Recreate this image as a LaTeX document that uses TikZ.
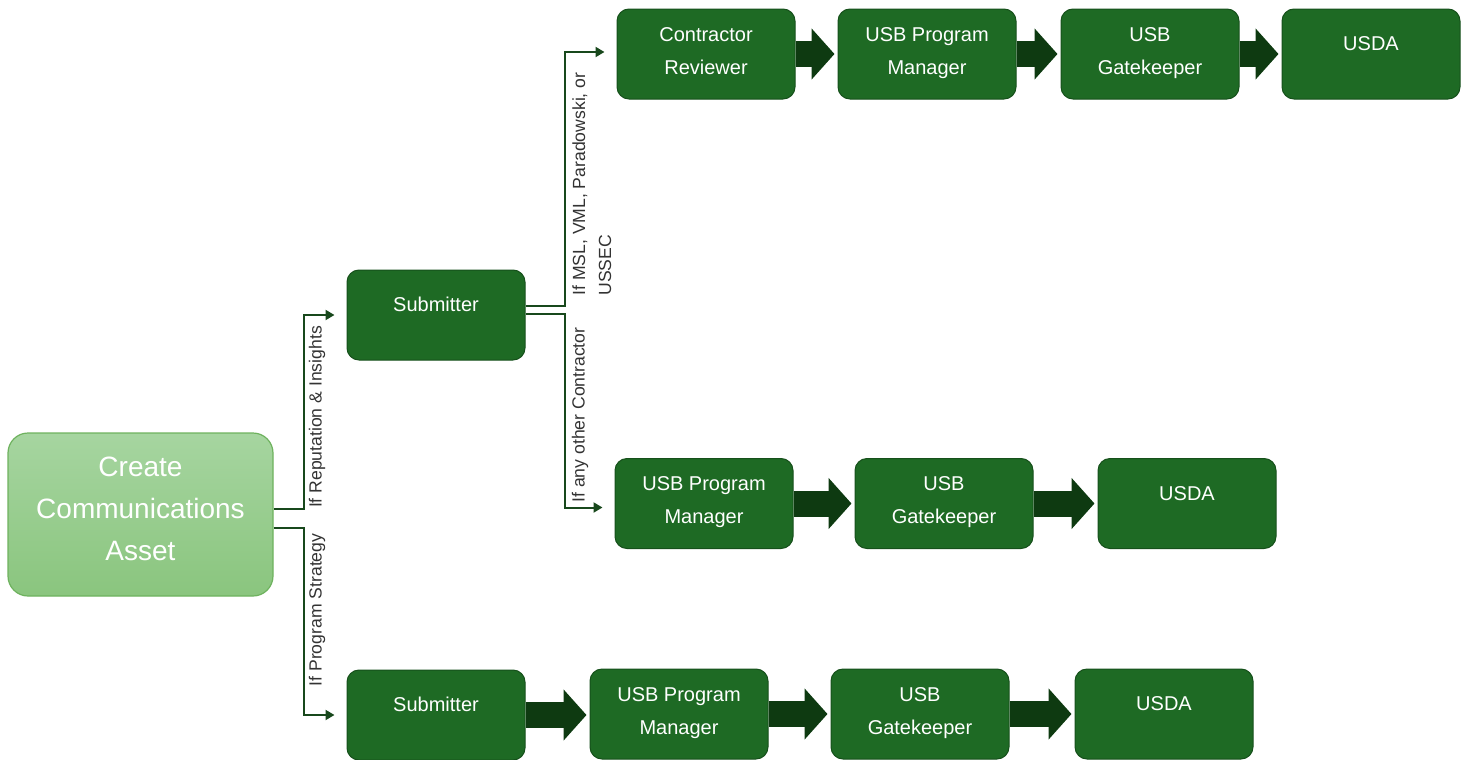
\documentclass[tikz,border=0pt]{standalone}
\usepackage{fontspec}
\setmainfont{Liberation Sans}
\usetikzlibrary{arrows.meta, calc}
\definecolor{boxgreen}{RGB}{30,106,36}
\definecolor{boxedge}{RGB}{22,80,27}
\definecolor{arrowgreen}{RGB}{14,58,17}
\definecolor{linegreen}{RGB}{24,72,28}
\definecolor{lighttop}{RGB}{166,213,160}
\definecolor{lightbot}{RGB}{138,197,126}
\definecolor{lightedge}{RGB}{110,178,94}
% lift the text a little inside its box, keeping its size
\newcommand{\boxtext}[2]{\raisebox{#1}[\height][\depth]{\begin{tabular}{@{}c@{}}#2\end{tabular}}}
\tikzset{
  box/.style={draw=boxedge, line width=0.5pt, fill=boxgreen, rounded corners=6pt,
    minimum width=89pt, minimum height=45pt, inner sep=0pt, text=white,
    font=\fontsize{10}{16.5}\selectfont},
  start/.style={draw=lightedge, line width=0.6pt, top color=lighttop, bottom color=lightbot,
    rounded corners=10pt, minimum width=132.5pt, minimum height=81.5pt, inner sep=0pt,
    text=white, font=\fontsize{14}{21}\selectfont},
  conn/.style={draw=linegreen, line width=1pt, -{Triangle[length=4.5pt,width=5pt]}, shorten >=6pt},
  blockarrow/.style={draw=arrowgreen, line width=13pt, -{Triangle[length=11.5pt,width=25pt]}, shorten >=1.5pt},
  cond/.style={rotate=90, inner sep=0pt, text=black!80, font=\fontsize{8.8}{13}\selectfont},
}
\begin{document}
\begin{tikzpicture}[x=0.5pt, y=-0.5pt]
  \useasboundingbox (0,0) rectangle (1468,760);
  % start and submitters
  \node[start] (create) at (140.5,514.5) {\boxtext{2.25pt}{Create\\Communications\\Asset}};
  \node[box] (sub1) at (436,315) {\boxtext{5pt}{Submitter}};
  \node[box] (sub2) at (436,715) {\boxtext{5pt}{Submitter}};
  % contractor review row
  \foreach \n/\x/\r/\t in {rev/706/1.5pt/{Contractor\\Reviewer}, pma/927/1.5pt/{USB Program\\Manager},
      gka/1150/1.5pt/{USB\\Gatekeeper}, usa/1371/5pt/USDA}
    \node[box] (\n) at (\x,54) {\boxtext{\r}{\t}};
  % other contractor row
  \foreach \n/\x/\r/\t in {pmb/704/1.5pt/{USB Program\\Manager}, gkb/944/1.5pt/{USB\\Gatekeeper},
      usb/1187/5pt/USDA}
    \node[box] (\n) at (\x,503.5) {\boxtext{\r}{\t}};
  % program strategy row
  \foreach \n/\x/\r/\t in {pmc/679/1.5pt/{USB Program\\Manager}, gkc/920/1.5pt/{USB\\Gatekeeper},
      usc/1164/5pt/USDA}
    \node[box] (\n) at (\x,714) {\boxtext{\r}{\t}};
  % block arrows
  \foreach \a/\b in {rev/pma, pma/gka, gka/usa, pmb/gkb, gkb/usb, sub2/pmc, pmc/gkc, gkc/usc}
    \draw[blockarrow] (\a.east) -- (\a.east -| \b.west);
  % branches
  \draw[conn] ([yshift=2.75pt]create.east) -- ++(30,0) |- (sub1.west);
  \draw[conn] ([yshift=-6.75pt]create.east) -- ++(30,0) |- (sub2.west);
  \draw[conn] ([yshift=4.5pt]sub1.east) -- ++(39,0) |- ([yshift=1pt]rev.west);
  \draw[conn] ([yshift=0.5pt]sub1.east) -- ++(39,0) |- ([yshift=-2pt]pmb.west);
  % branch labels
  \node[cond] (lbrep) at (317,417) {If Reputation \& Insights};
  \node[cond] (lbprog) at (317,610) {If Program Strategy};
  \node[cond, anchor=north west, align=left] (lbmsl) at (572,296) {If MSL, VML, Paradowski, or\\USSEC};
  \node[cond] (lbother) at (580,415) {If any other Contractor};
\end{tikzpicture}
\end{document}
